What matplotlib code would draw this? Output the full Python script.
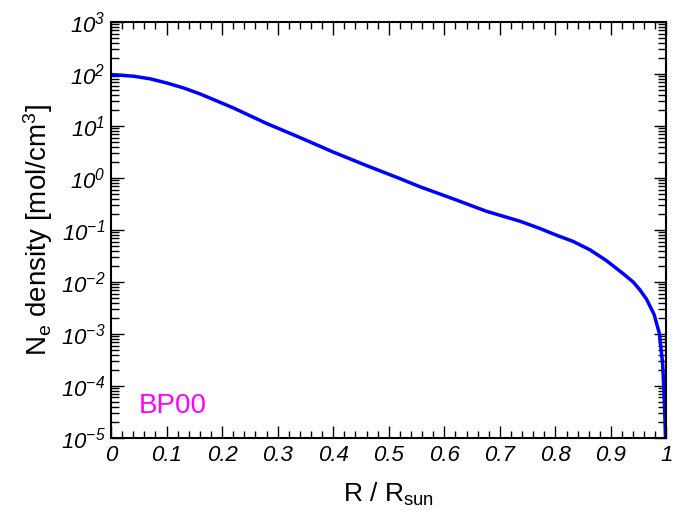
import numpy as np
import matplotlib
matplotlib.use('Agg')
import matplotlib.pyplot as plt
from matplotlib.ticker import MultipleLocator, LogLocator, NullFormatter, FuncFormatter

# BP00 electron density profile (R/Rsun vs log10 Ne [mol/cm^3])
r_frac = [0.0, 0.04, 0.07, 0.10, 0.13, 0.16, 0.22, 0.28, 0.34, 0.40, 0.46,
          0.52, 0.556, 0.616, 0.676, 0.736, 0.772, 0.802, 0.832, 0.862, 0.892,
          0.922, 0.940, 0.952, 0.964, 0.9775, 0.987, 0.993, 0.995, 0.9968,
          0.998, 0.999]
log_ne = [1.99, 1.96, 1.91, 1.83, 1.735, 1.62, 1.35, 1.05, 0.78, 0.50, 0.24,
          -0.01, -0.167, -0.40, -0.64, -0.83, -0.97, -1.10, -1.22, -1.38, -1.59,
          -1.84, -2.00, -2.15, -2.33, -2.62, -2.98, -3.56, -4.0, -4.5,
          -4.95, -5.3]
ne = 10.0 ** np.array(log_ne)

x_ticks = [0, 0.1, 0.2, 0.3, 0.4, 0.5, 0.6, 0.7, 0.8, 0.9, 1]
x_ticklabels = ['0', '0.1', '0.2', '0.3', '0.4', '0.5', '0.6', '0.7', '0.8', '0.9', '1']

plt.rcParams['font.family'] = ['Liberation Sans', 'DejaVu Sans']
# mathtext 的 rm 用斜体, 给 y 轴刻度 10^n 用; 轴标题里用 \mathsf 保持正体
plt.rcParams['mathtext.fontset'] = 'custom'
plt.rcParams['mathtext.rm'] = 'Liberation Sans:italic'
plt.rcParams['mathtext.it'] = 'Liberation Sans:italic'
plt.rcParams['mathtext.sf'] = 'Liberation Sans'
plt.rcParams['mathtext.default'] = 'rm'

fig = plt.figure(figsize=(6.81, 5.14), dpi=100)
ax = fig.add_axes([0.163, 0.148, 0.8157, 0.809])

ax.plot(r_frac, ne, color='#0000ff', linewidth=2.5)

ax.set_yscale('log')
ax.set_xlim(0, 1)
ax.set_ylim(1e-5, 1e3)

# 刻度: 全部朝内, 四边都画
ax.set_xticks(x_ticks)
ax.set_xticklabels(x_ticklabels, fontstyle='italic')
ax.xaxis.set_minor_locator(MultipleLocator(0.02))
ax.yaxis.set_major_locator(LogLocator(base=10, numticks=20))
ax.yaxis.set_minor_locator(LogLocator(base=10, subs=np.arange(2, 10), numticks=20))
ax.yaxis.set_minor_formatter(NullFormatter())
ax.yaxis.set_major_formatter(FuncFormatter(lambda v, p: r'$10^{%d}$' % round(np.log10(v))))

ax.tick_params(which='both', direction='in', top=True, right=True, labelsize=16, color='black')
ax.tick_params(axis='x', which='major', length=9, width=1, pad=5)
ax.tick_params(axis='x', which='minor', length=5, width=1)
ax.tick_params(axis='y', which='major', length=9, width=1, pad=4)
ax.tick_params(axis='y', which='minor', length=6, width=1)

for sp in ax.spines.values():
    sp.set_linewidth(1.5)

ax.set_xlabel(r'R / R$_{\mathsf{sun}}$', fontsize=19)
ax.set_ylabel(r'N$_{\mathsf{e}}$ density [mol/cm$^{\mathsf{3}}$]', fontsize=20)
ax.xaxis.set_label_coords(0.5, -0.103)
ax.yaxis.set_label_coords(-0.101, 0.5)

ax.text(0.05, 3.0e-5, 'BP00', color='#ff00ff', fontsize=20, ha='left', va='baseline')

plt.savefig('out.png', dpi=100)
